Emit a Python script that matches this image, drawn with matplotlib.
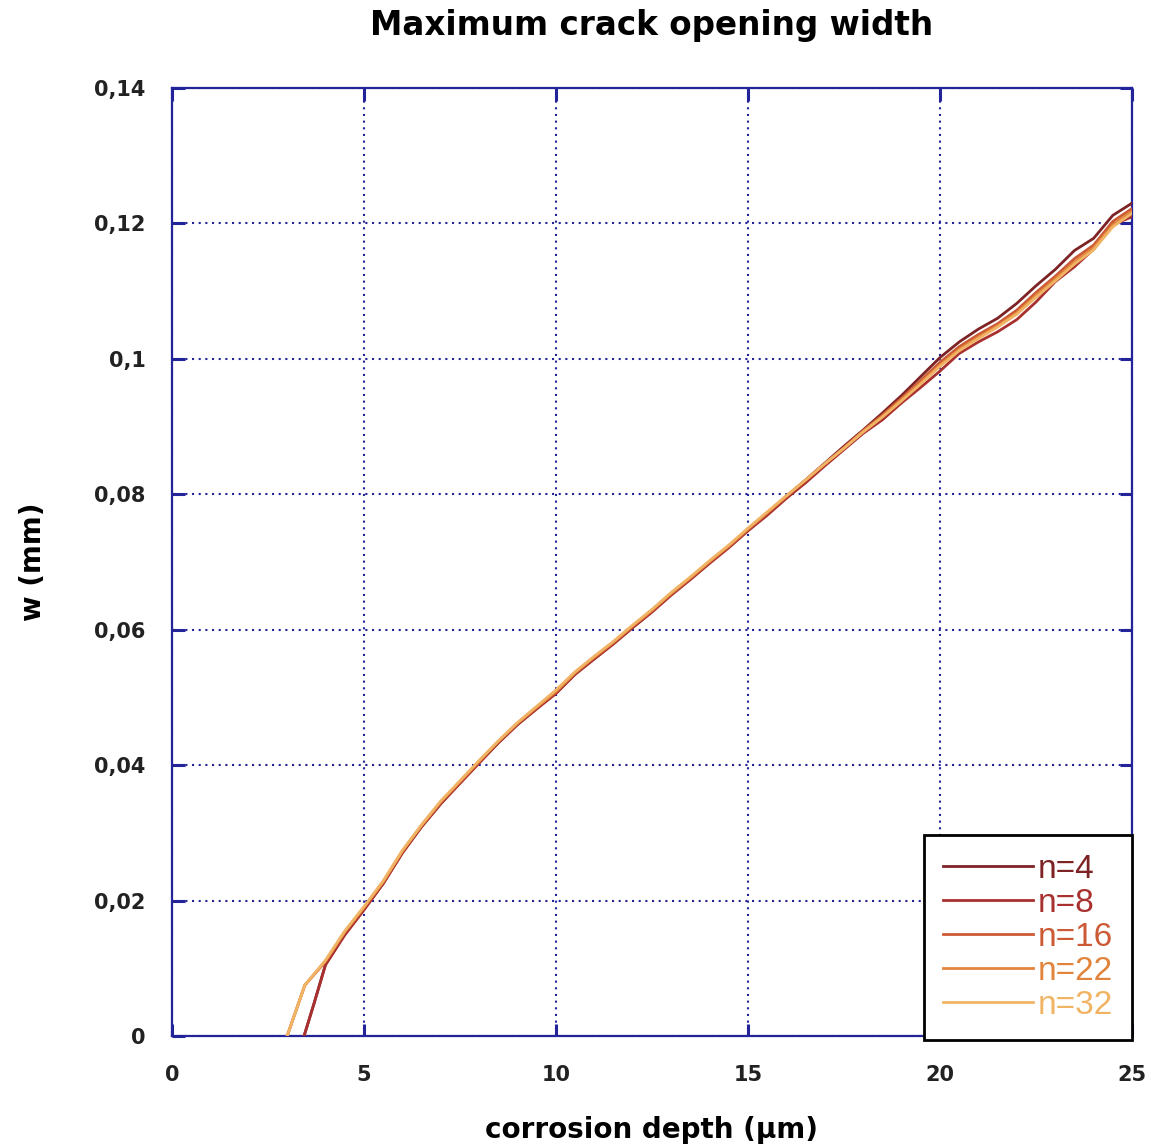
import matplotlib
matplotlib.use("Agg")
import matplotlib.pyplot as plt

# --- data ---
x_start_dark = [3.44, 3.7]
x_start_light = [3.0, 3.46]
x_common = [4.0, 4.5, 5.0, 5.5, 6.0, 6.5, 7.0, 7.5, 8.0, 8.5, 9.0, 9.5, 10.0,
            10.5, 11.0, 11.5, 12.0, 12.5, 13.0, 13.5, 14.0, 14.5, 15.0, 15.5,
            16.0, 16.5, 17.0, 17.5, 18.0, 18.5, 19.0, 19.5, 20.0, 20.5, 21.0,
            21.5, 22.0, 22.5, 23.0, 23.5, 24.0, 24.5, 25.0]

w_start_dark = [0.0, 0.0048]
w_start_light = [0.0, 0.0075]

w_n4 = [0.0106, 0.0150, 0.0187, 0.0225, 0.0271, 0.0309, 0.0343, 0.0374, 0.0404,
        0.0433, 0.0460, 0.0484, 0.0506, 0.0535, 0.0557, 0.0580, 0.0604, 0.0627,
        0.0652, 0.0676, 0.0699, 0.0723, 0.0747, 0.0772, 0.0797, 0.0821, 0.0846,
        0.0871, 0.0895, 0.0920, 0.0946, 0.0974, 0.1002, 0.1025, 0.1044, 0.1060,
        0.1082, 0.1108, 0.1132, 0.1160, 0.1178, 0.1212, 0.1230]
w_n8 = [0.0105, 0.0149, 0.0186, 0.0225, 0.0270, 0.0309, 0.0343, 0.0373, 0.0403,
        0.0433, 0.0460, 0.0483, 0.0506, 0.0534, 0.0557, 0.0579, 0.0603, 0.0626,
        0.0651, 0.0674, 0.0698, 0.0721, 0.0746, 0.0769, 0.0794, 0.0817, 0.0842,
        0.0866, 0.0890, 0.0910, 0.0935, 0.0958, 0.0982, 0.1008, 0.1025, 0.1040,
        0.1058, 0.1084, 0.1114, 0.1136, 0.1162, 0.1198, 0.1210]
w_n16 = [0.0110, 0.0153, 0.0189, 0.0227, 0.0273, 0.0311, 0.0345, 0.0375, 0.0405,
         0.0435, 0.0462, 0.0485, 0.0508, 0.0536, 0.0559, 0.0581, 0.0605, 0.0628,
         0.0653, 0.0676, 0.0700, 0.0723, 0.0748, 0.0772, 0.0797, 0.0821, 0.0845,
         0.0869, 0.0894, 0.0917, 0.0942, 0.0968, 0.0995, 0.1018, 0.1036, 0.1052,
         0.1072, 0.1098, 0.1122, 0.1148, 0.1168, 0.1203, 0.1222]
w_n22 = [0.0111, 0.0154, 0.0190, 0.0228, 0.0273, 0.0311, 0.0346, 0.0376, 0.0406,
         0.0435, 0.0462, 0.0486, 0.0509, 0.0537, 0.0560, 0.0582, 0.0606, 0.0629,
         0.0654, 0.0677, 0.0701, 0.0724, 0.0749, 0.0773, 0.0797, 0.0821, 0.0845,
         0.0868, 0.0893, 0.0915, 0.0940, 0.0965, 0.0991, 0.1014, 0.1032, 0.1049,
         0.1068, 0.1094, 0.1118, 0.1143, 0.1164, 0.1198, 0.1218]
w_n32 = [0.0112, 0.0155, 0.0191, 0.0229, 0.0274, 0.0312, 0.0347, 0.0377, 0.0407,
         0.0436, 0.0463, 0.0487, 0.0511, 0.0538, 0.0561, 0.0583, 0.0607, 0.0630,
         0.0655, 0.0678, 0.0702, 0.0725, 0.0750, 0.0774, 0.0798, 0.0821, 0.0845,
         0.0868, 0.0892, 0.0914, 0.0938, 0.0963, 0.0989, 0.1012, 0.1030, 0.1047,
         0.1066, 0.1091, 0.1115, 0.1140, 0.1161, 0.1195, 0.1215]

labels = ["n=4", "n=8", "n=16", "n=22", "n=32"]
xticks = [0, 5, 10, 15, 20, 25]
yticks = [0, 0.02, 0.04, 0.06, 0.08, 0.10, 0.12, 0.14]
ytick_labels = ["0", "0,02", "0,04", "0,06", "0,08", "0,1", "0,12", "0,14"]

colors = ["#7d2326", "#a8302f", "#cc5a35", "#e2843c", "#f0b464"]
navy = "#23239a"

plt.rcParams["font.family"] = ["DejaVu Sans"]

fig = plt.figure(figsize=(11.51, 11.48), dpi=100)
ax = fig.add_axes([0.1494, 0.0976, 0.8341, 0.8257])

series = [(x_start_dark, w_start_dark, w_n4), (x_start_dark, w_start_dark, w_n8),
          (x_start_light, w_start_light, w_n16), (x_start_light, w_start_light, w_n22),
          (x_start_light, w_start_light, w_n32)]
for (xs, ws, w), c, lab in zip(series, colors, labels):
    ax.plot(xs + x_common, ws + w, color=c, lw=2.0, label=lab, zorder=3)

ax.set_xlim(0, 25)
ax.set_ylim(0, 0.14)
ax.set_xticks(xticks)
ax.set_xticklabels([str(t) for t in xticks])
ax.set_yticks(yticks)
ax.set_yticklabels(ytick_labels)

ax.grid(True, color=navy, linestyle=(0, (1, 2.2)), linewidth=1.5)
for sp in ax.spines.values():
    sp.set_color(navy)
    sp.set_linewidth(1.6)
ax.tick_params(direction="in", length=9, width=2.2, color=navy,
               top=True, right=True, labelsize=15, labelcolor="#222222")
for t in ax.get_xticklabels() + ax.get_yticklabels():
    t.set_fontweight("bold")
ax.tick_params(axis="y", pad=19)
ax.tick_params(axis="x", pad=21)

ax.set_title("Maximum crack opening width", fontsize=23.5, fontweight="bold", pad=38)
ax.set_xlabel("corrosion depth (µm)", fontsize=20, fontweight="bold", labelpad=22)
ax.set_ylabel("w (mm)", fontsize=20, fontweight="bold", labelpad=34)

leg = ax.legend(loc="lower right", bbox_to_anchor=(1.0, -0.0042), borderaxespad=0,
                prop={"family": "Liberation Sans", "size": 24},
                labelcolor="linecolor", handlelength=2.7, handletextpad=0.15,
                labelspacing=0.09, borderpad=0.57, fancybox=False, framealpha=1)
leg.get_frame().set_edgecolor("black")
leg.get_frame().set_linewidth(2)
leg.set_zorder(5)

fig.savefig("out.png", dpi=100)
